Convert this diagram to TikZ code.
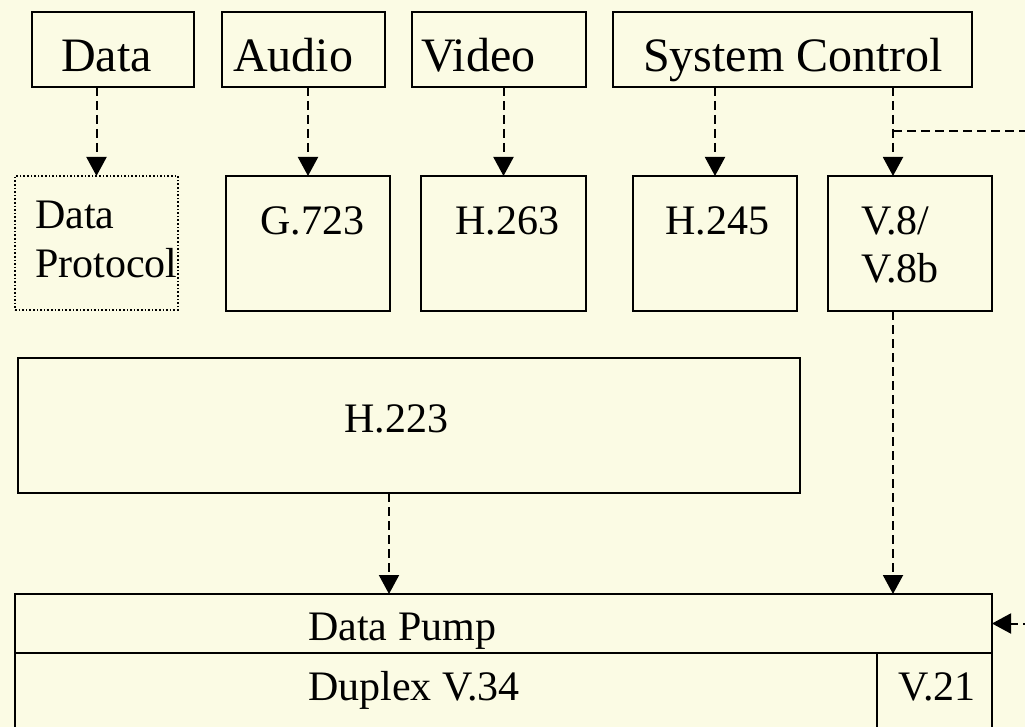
\documentclass[tikz,border=0pt]{standalone}
\usepackage{fontspec}
\setmainfont{Liberation Serif}
\usetikzlibrary{arrows.meta}
\definecolor{paper}{RGB}{251,251,228}
\tikzset{
  blk/.style={draw=black, line width=2pt, inner sep=0pt, outer sep=0pt, anchor=north west},
  dotblk/.style={draw=black, line width=1.6pt, dash pattern=on 1.6pt off 2pt, inner sep=0pt, outer sep=0pt, anchor=north west},
  big/.style={inner sep=0pt, anchor=base west, font=\fontsize{48}{52}\selectfont},
  txt/.style={inner sep=0pt, anchor=base west, font=\fontsize{42}{48}\selectfont},
  conn/.style={draw=black, line width=2pt, dash pattern=on 9pt off 5pt,
               -{Triangle[length=19pt,width=20pt]}},
  plain/.style={draw=black, line width=2pt, dash pattern=on 9pt off 5pt}
}
\begin{document}
\begin{tikzpicture}[x=1pt, y=-1pt]
\useasboundingbox (0,0) rectangle (1025,727);
\clip (0,0) rectangle (1025,727);
\fill[paper] (0,0) rectangle (1025,727);

% top row: application streams
\node[blk, minimum width=162pt, minimum height=75pt] (data)  at (32,12) {};
\node[blk, minimum width=163pt, minimum height=75pt] (audio) at (222,12) {};
\node[blk, minimum width=174pt, minimum height=75pt] (video) at (412,12) {};
\node[blk, minimum width=359pt, minimum height=75pt] (sys)   at (613,12) {};
\node[big] (dataT)  at (61,72)  {Data};
\node[big] (audioT) at (233,72) {Audio};
\node[big] (videoT) at (421,72) {Video};
\node[big] (sysT)   at (643,72) {System Control};

% middle row: protocol blocks
\node[dotblk, minimum width=163pt, minimum height=134pt] (dprot) at (15,176) {};
\node[blk, minimum width=164pt, minimum height=135pt] (g723) at (226,176) {};
\node[blk, minimum width=165pt, minimum height=135pt] (h263) at (421,176) {};
\node[blk, minimum width=164pt, minimum height=135pt] (h245) at (633,176) {};
\node[blk, minimum width=164pt, minimum height=135pt] (v8)   at (828,176) {};
\node[txt] (dprotA) at (35,229)  {Data};
\node[txt] (dprotB) at (35,278)  {Protocol};
\node[txt] (g723T)  at (260,235) {G.723};
\node[txt] (h263T)  at (455,235) {H.263};
\node[txt] (h245T)  at (665,235) {H.245};
\node[txt] (v8A)    at (861,235) {V.8/};
\node[txt] (v8B)    at (861,283) {V.8b};

% multiplexer
\node[blk, minimum width=782pt, minimum height=135pt] (h223) at (18,358) {};
\node[txt] (h223T) at (344,432) {H.223};

% data pump with its modulations
\node[blk, minimum width=977pt, minimum height=59pt] (pump)   at (15,594) {};
\node[blk, minimum width=862pt, minimum height=100pt] (duplex) at (15,653) {};
\node[blk, minimum width=115pt, minimum height=100pt] (v21)    at (877,653) {};
\node[txt] (pumpT)   at (308,640) {Data Pump};
\node[txt] (duplexT) at (308,700) {Duplex V.34};
\node[txt] (v21T)    at (898,700) {V.21};

% connectors
\draw[conn] (dprot.north |- data.south) -- (dprot.north);
\draw[conn] (g723.north |- audio.south) -- (g723.north);
\draw[conn] (h263.north |- video.south) -- (h263.north);
\draw[conn] (h245.north |- sys.south) -- (h245.north);
\coordinate (v8in) at ([xshift=-17pt]v8.north);
\draw[conn] (v8in |- sys.south) -- (v8in);
\draw[conn] ([xshift=-17pt]v8.south) -- ([xshift=-17pt]v8.south |- pump.north);
\coordinate (h223out) at ([xshift=-20pt]h223.south);
\draw[conn] (h223out) -- (h223out |- pump.north);
\coordinate (loopTop) at (1045,131);
\draw[conn] (v8in |- loopTop) -- (loopTop) |- (pump.east);
\end{tikzpicture}
\end{document}
